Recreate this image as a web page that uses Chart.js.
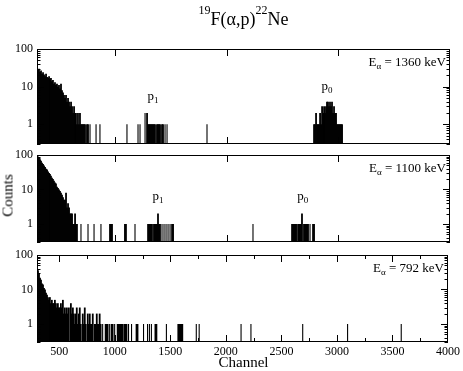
<!DOCTYPE html>
<html><head><meta charset="utf-8">
<script src="https://cdn.jsdelivr.net/npm/chart.js@4/dist/chart.umd.min.js"></script>
<style>
html,body{margin:0;padding:0;background:#fff;}
#wrap{position:relative;width:463px;height:371px;overflow:hidden;font-family:"Liberation Serif","Times New Roman",serif;color:#000;}
canvas{position:absolute;left:0;top:0;}
.t{position:absolute;white-space:nowrap;font-weight:normal;}
</style></head><body>
<div id="wrap">
<canvas id="c1" width="463" height="371"></canvas>
<canvas id="c2" width="463" height="371"></canvas>
<canvas id="c3" width="463" height="371"></canvas>
<div class="t" style="left:37px;width:413px;top:10px;text-align:center;font-size:18px;line-height:18px;"><span style="position:relative;top:-11px;font-size:12px;">19</span>F(α,p)<span style="position:relative;top:-11px;font-size:12px;">22</span>Ne</div>
<div class="t" style="left:-22px;width:60px;top:188px;text-align:center;font-size:15px;line-height:15px;transform:rotate(-90deg);">Counts</div>
<div class="t" style="left:37px;width:413px;top:355px;text-align:center;font-size:15px;line-height:15px;">Channel</div>
</div>
<script>
// ---- Data (channel, counts) ----
const energies = ["1360", "1100", "792"];

const ch1360 = [300,309,318,327,336,345,354,363,372,381,390,399,408,416,425,434,443,452,461,470,
  479,488,497,506,515,524,533,542,551,560,569,578,587,596,605,614,623,632,641,649,
  658,667,676,685,694,703,712,721,730,748,757,775,829,864,1106,1205,1223,1268,1286,
  1295,1304,1312,1321,1330,1339,1348,1357,1375,1384,1393,1402,1420,1429,1447,1465,1823,
  2782,2791,2800,2809,2818,2827,2836,2845,2854,2863,2872,2880,2889,2898,2907,2916,2925,
  2934,2943,2952,2961,2970,2979,2988,2997,3006,3015,3024,3033];
const n1360 = [32,28,30,25,27,22,24,21,19,22,18,17,19,16,17,14,15,12,13,11,
  12,10,11,9,12,8,7,6,5,6,4,5,4,3,4,3,2,3,2,2,
  1,2,1,2,1,1,1,1,1,1,1,1,1,1,1,1,1,2,2,
  1,1,1,1,1,1,1,1,1,1,1,1,1,1,1,1,1,
  1,1,2,1,1,1,2,1,3,2,3,2,3,4,4,3,4,
  3,4,2,3,2,2,1,1,1,1,1,1];

const ch1100 = [300,309,318,327,336,345,354,363,372,381,390,399,408,416,425,434,443,452,461,470,
  479,488,497,506,515,524,533,542,551,560,569,578,587,596,605,614,623,632,641,649,658,
  694,757,811,873,954,963,972,1088,1097,1178,
  1295,1304,1312,1321,1330,1348,1357,1366,1375,1384,1393,1402,1420,1438,1456,1474,1492,1510,1519,
  2235,
  2585,2594,2603,2612,2621,2639,2648,2656,2665,2674,2692,2701,2710,2719,2728,2746,2773,2782];
const n1100 = [95,90,80,75,68,60,55,50,45,40,38,33,30,28,25,22,20,18,16,15,
  12,11,10,9,8,7,6,5,5,8,3,4,3,2,2,2,1,1,2,1,1,
  1,1,1,1,1,1,1,1,1,1,
  1,1,1,1,1,1,1,1,1,2,1,1,1,1,1,1,1,1,1,
  1,
  1,1,1,1,1,1,1,1,1,2,1,1,1,1,1,1,1,1];

const ch792 = [300,309,318,327,336,345,354,363,372,381,390,399,408,416,425,434,443,452,461,470,
  479,488,497,506,515,524,533,542,551,560,569,578,587,605,614,623,632,641,649,658,
  667,676,685,694,712,721,730,739,757,766,775,784,793,802,820,829,838,847,856,864,
  873,891,918,927,936,954,972,981,999,1026,1035,1044,1053,1062,1071,1088,1097,1106,1124,1151,
  1196,1205,1259,1295,1312,1330,1366,1375,1465,1572,1581,1590,1599,1608,1734,1760,2137,2226,2692,3096,3579];
const n792 = [45,36,30,22,19,15,14,11,10,8,7,6,5,6,4,5,4,4,5,4,
  3,4,3,3,4,3,5,2,3,2,3,2,3,4,2,3,2,1,2,3,
  1,2,3,1,2,1,3,1,2,1,2,1,1,2,1,1,2,1,1,2,
  1,1,1,1,1,1,1,1,1,1,1,1,1,1,1,1,1,1,1,1,
  1,1,1,1,1,1,1,1,1,1,1,1,1,1,1,1,1,1,1,1,1];

// peak labels: channel, counts (anchor of text baseline), text, subscript
const peaks1360 = [[1340, 4.5, "p", "1"], [2898, 8.4, "p", "0"]];
const peaks1100 = [[1384, 5.1, "p", "1"], [2680, 5.1, "p", "0"]];
const peaks792 = [];

const xTickLabels = [500, 1000, 1500, 2000, 2500, 3000, 3500, 4000];
const yTickLabels = [1, 10, 100];

// ---- drawing ----
const FONT = '"Liberation Serif","Times New Roman",serif';

function subText(ctx, x, y, parts, align) {
  let w = 0;
  const ws = parts.map(p => { ctx.font = (p[1] ? 9 : 13) + 'px ' + FONT; const m = ctx.measureText(p[0]).width; w += m; return m; });
  let sx = align === 'right' ? x - w : (align === 'center' ? x - w / 2 : x);
  parts.forEach((p, i) => {
    ctx.font = (p[1] ? 9 : 13) + 'px ' + FONT;
    ctx.fillText(p[0], sx, p[1] ? y + 3 : y);
    sx += ws[i];
  });
}

const framePlugin = {
  id: 'frame',
  afterDraw(chart, args, o) {
    const {ctx, chartArea: a} = chart;
    const x = chart.scales.x, y = chart.scales.y;
    ctx.save();
    ctx.strokeStyle = '#000';
    ctx.lineWidth = 1;
    ctx.strokeRect(a.left + 0.5, a.top + 0.5, a.right - a.left - 1, a.bottom - a.top - 1);
    ctx.beginPath();
    for (let k = -1; k <= 2; k++) for (let m = 1; m <= 9; m++) {
      const v = m * Math.pow(10, k);
      if (v < y.min - 1e-9 || v > y.max + 1e-9) continue;
      const py = Math.round(y.getPixelForValue(v)) + 0.5;
      const len = m === 1 ? 7 : 3.5;
      ctx.moveTo(a.left, py); ctx.lineTo(a.left + len, py);
      ctx.moveTo(a.right, py); ctx.lineTo(a.right - len, py);
    }
    o.xMajor.forEach(v => {
      const px = Math.round(x.getPixelForValue(v)) + 0.5;
      ctx.moveTo(px, a.top); ctx.lineTo(px, a.top + 7);
      ctx.moveTo(px, a.bottom); ctx.lineTo(px, a.bottom - 7);
    });
    o.xMinor.forEach(v => {
      const px = Math.round(x.getPixelForValue(v)) + 0.5;
      ctx.moveTo(px, a.top); ctx.lineTo(px, a.top + 4);
      ctx.moveTo(px, a.bottom); ctx.lineTo(px, a.bottom - 4);
    });
    ctx.stroke();
    ctx.fillStyle = '#000';
    ctx.textBaseline = 'alphabetic';
    subText(ctx, a.right - 4, a.top + 17, [["E", false], ["α", true], [" = " + o.energy + " keV", false]], 'right');
    o.peaks.forEach(p => {
      subText(ctx, x.getPixelForValue(p[0]), y.getPixelForValue(p[1]), [[p[2], false], [p[3], true]], 'center');
    });
    ctx.restore();
  }
};

function makePanel(id, chans, counts, top, bottom, showX, energy, peaks, xMajor, xMinor) {
  // bars that sit in a run of neighbouring channels are drawn a bit wider so the run looks solid
  const dense = [], sparse = [];
  chans.forEach((c, i) => {
    const near = (i > 0 && c - chans[i - 1] <= 10) || (i < chans.length - 1 && chans[i + 1] - c <= 10);
    (near ? dense : sparse).push({x: c, y: counts[i]});
  });
  const xAxisH = showX ? 20 : 0;
  new Chart(document.getElementById(id), {
    type: 'bar',
    data: {datasets: [
      {data: dense, backgroundColor: '#000', borderWidth: 0, barThickness: 1.8, grouped: false, inflateAmount: 0},
      {data: sparse, backgroundColor: '#000', borderWidth: 0, barThickness: 1.1, grouped: false, inflateAmount: 0}
    ]},
    options: {
      responsive: false, animation: false, events: [],
      layout: {padding: {top: top, bottom: 371 - bottom - xAxisH, left: 0, right: 13}},
      plugins: {legend: {display: false}, tooltip: {enabled: false}, title: {display: false},
        frame: {energy: energy, peaks: peaks, xMajor: xMajor, xMinor: xMinor}},
      scales: {
        x: {type: 'linear', min: 300, max: 4000, display: showX, offset: false,
          grid: {display: false, drawTicks: false}, border: {display: false},
          afterBuildTicks: s => { s.ticks = xTickLabels.map(v => ({value: v})); },
          afterFit: s => { s.height = xAxisH; },
          ticks: {callback: v => String(v), font: {family: FONT, size: 12}, color: '#000', padding: 3, maxRotation: 0, autoSkip: false}},
        y: {type: 'logarithmic', min: 0.3, max: 100,
          grid: {display: false, drawTicks: false}, border: {display: false},
          afterFit: s => { s.width = 37; },
          afterBuildTicks: s => { s.ticks = yTickLabels.map(v => ({value: v})); },
          ticks: {callback: v => String(v), font: {family: FONT, size: 12}, color: '#000', padding: 4, autoSkip: false}}
      }
    },
    plugins: [framePlugin]
  });
}

makePanel('c1', ch1360, n1360, 49, 144, false, energies[0], peaks1360, [1000, 2000, 3000], []);
makePanel('c2', ch1100, n1100, 155, 242, false, energies[1], peaks1100, [1000, 2000, 3000], []);
makePanel('c3', ch792, n792, 255, 342, true, energies[2], peaks792,
  [500, 1000, 1500, 2000, 2500, 3000, 3500], [750, 1250, 1750, 2250, 2750, 3250, 3750]);
</script>
</body></html>
